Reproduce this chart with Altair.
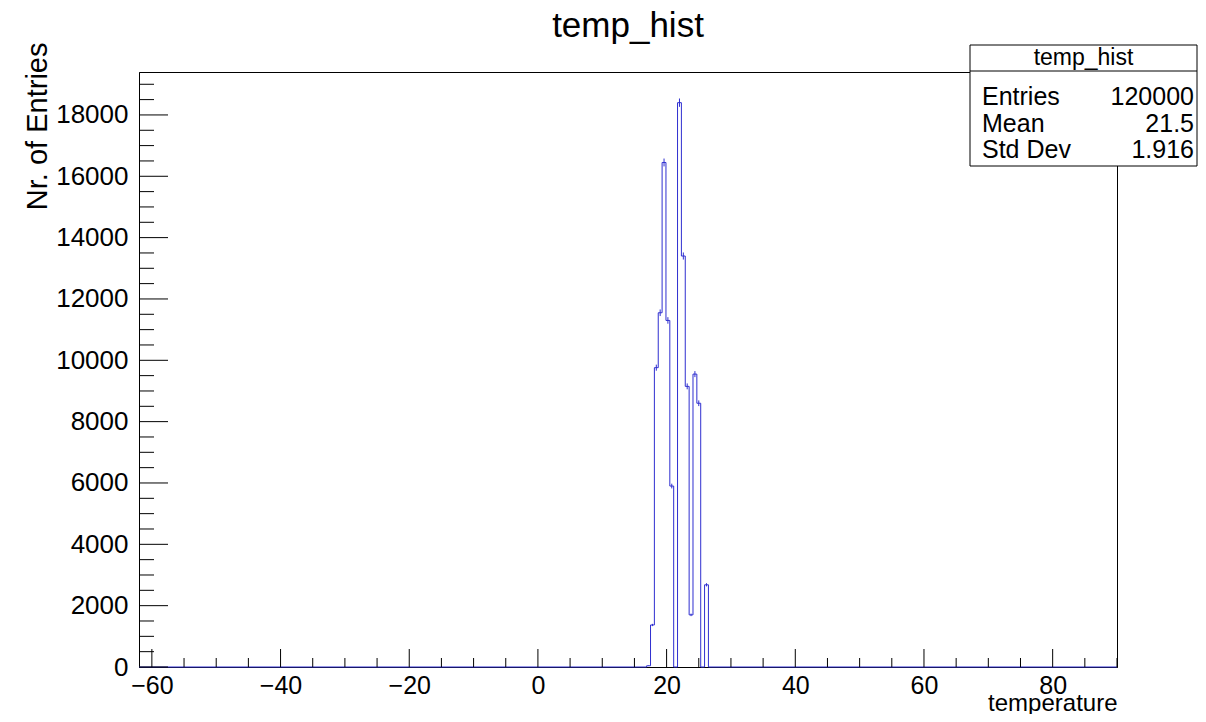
import altair as alt
import pandas as pd
import numpy as np

# ---------------- data ----------------
title_text = "temp_hist"
x_title = "temperature"
y_title = "Nr. of Entries"

bin_left = [16.9, 17.5, 18.1, 18.7, 19.3, 19.9, 20.5, 21.1, 21.7, 22.3, 22.9, 23.5, 24.1, 24.7, 25.3, 25.9]
bin_right = [17.5, 18.1, 18.7, 19.3, 19.9, 20.5, 21.1, 21.7, 22.3, 22.9, 23.5, 24.1, 24.7, 25.3, 25.9, 26.5]
counts = [40, 1370, 9760, 11550, 16450, 11300, 5900, 0, 18400, 13400, 9150, 1700, 9550, 8600, 0, 2680]

x_domain = [-62, 90]
y_domain = [0, 19400]

x_major = [-60, -40, -20, 0, 20, 40, 60, 80]
x_minor = [-55, -50, -45, -35, -30, -25, -15, -10, -5, 5, 10, 15, 25, 30, 35, 45, 50, 55, 65, 70, 75, 85, 90]
y_major = [0, 2000, 4000, 6000, 8000, 10000, 12000, 14000, 16000, 18000]
y_minor = [500, 1000, 1500, 2500, 3000, 3500, 4500, 5000, 5500, 6500, 7000, 7500, 8500, 9000, 9500,
           10500, 11000, 11500, 12500, 13000, 13500, 14500, 15000, 15500, 16500, 17000, 17500, 18500, 19000]

stat_names = ["Entries", "Mean", "Std Dev"]
stat_values = ["120000", "21.5", "1.916"]

# ---------------- layout ----------------
W, H = 978, 595
FONT = "Liberation Sans"
LINE = "#2f2fd0"

step_x = [x_domain[0]] + bin_left + [bin_right[-1], x_domain[1]]
step_y = [0] + counts + [0, 0]
df_step = pd.DataFrame({"x": step_x, "y": step_y})

df_err = pd.DataFrame({
    "x": [(a + b) / 2 for a, b in zip(bin_left, bin_right)],
    "v": counts,
})
df_err = df_err[df_err["v"] > 0].copy()
df_err["y"] = df_err["v"] - np.sqrt(df_err["v"])
df_err["y2"] = df_err["v"] + np.sqrt(df_err["v"])

xscale = alt.Scale(domain=x_domain, nice=False, zero=False)
yscale = alt.Scale(domain=y_domain, nice=False, zero=False)

x_axis = alt.Axis(values=x_major, format="d", tickSize=0, labelFont=FONT, labelFontSize=25, labelColor="black",
                  labelPadding=6, domainColor="black", grid=False, title=x_title, titleFont=FONT,
                  titleFontSize=24, titleFontWeight="normal", titleColor="black", titleAnchor="end",
                  titleAlign="right", titleBaseline="alphabetic", titleX=W, titleY=43)
y_axis = alt.Axis(values=y_major, format="d", tickSize=0, labelFont=FONT, labelFontSize=26, labelColor="black",
                  labelPadding=11, domainColor="black", grid=False, title=y_title, titleFont=FONT,
                  titleFontSize=29, titleFontWeight="normal", titleColor="black", titleAngle=270,
                  titleAlign="right", titleBaseline="alphabetic", titleX=-93, titleY=-30)

hist = alt.Chart(df_step).mark_line(interpolate="step-after", color=LINE, strokeWidth=1).encode(
    x=alt.X("x:Q", scale=xscale, axis=x_axis),
    y=alt.Y("y:Q", scale=yscale, axis=y_axis),
)

err = alt.Chart(df_err).mark_rule(color=LINE, strokeWidth=1).encode(
    x=alt.X("x:Q", scale=xscale),
    y=alt.Y("y:Q", scale=yscale),
    y2="y2:Q",
)

def xticks(vals, length):
    return alt.Chart(pd.DataFrame({"x": vals})).mark_rule(color="black", strokeWidth=1).encode(
        x=alt.X("x:Q", scale=xscale),
        y=alt.value(H), y2=alt.value(H - length),
    )

def yticks(vals, length):
    return alt.Chart(pd.DataFrame({"y": vals})).mark_rule(color="black", strokeWidth=1).encode(
        y=alt.Y("y:Q", scale=yscale),
        x=alt.value(0), x2=alt.value(length),
    )

title = alt.Chart(pd.DataFrame({"t": [title_text]})).mark_text(
    font=FONT, fontSize=35, color="black", align="center", baseline="alphabetic").encode(
    text="t:N", x=alt.value(W / 2), y=alt.value(-35))

# stats box
bx0, bx1, by0, by1, bsep = 831, 1058, -27, 94, -1
box = alt.Chart(pd.DataFrame({"a": [0]})).mark_rect(fill="white", stroke="black", strokeWidth=1).encode(
    x=alt.value(bx0), x2=alt.value(bx1), y=alt.value(by0), y2=alt.value(by1))
sep = alt.Chart(pd.DataFrame({"a": [0]})).mark_rule(color="black", strokeWidth=1).encode(
    x=alt.value(bx0), x2=alt.value(bx1), y=alt.value(bsep))
box_title = alt.Chart(pd.DataFrame({"t": [title_text]})).mark_text(
    font=FONT, fontSize=23, color="black", align="center", baseline="middle").encode(
    text="t:N", x=alt.value((bx0 + bx1) / 2), y=alt.value(-14))

row_y = [25, 51.5, 78]
stat_layers = []
for name, val, yy in zip(stat_names, stat_values, row_y):
    d = pd.DataFrame({"n": [name], "v": [val]})
    stat_layers.append(alt.Chart(d).mark_text(font=FONT, fontSize=25, color="black", align="left",
                                              baseline="middle").encode(text="n:N", x=alt.value(843), y=alt.value(yy)))
    stat_layers.append(alt.Chart(d).mark_text(font=FONT, fontSize=25, color="black", align="right",
                                              baseline="middle").encode(text="v:N", x=alt.value(1055), y=alt.value(yy)))

chart = alt.layer(
    hist, err,
    xticks(x_major, 18), xticks(x_minor, 9),
    yticks(y_major, 29), yticks(y_minor, 15),
    title, box, sep, box_title, *stat_layers,
).properties(
    width=W, height=H,
    autosize=alt.AutoSizeParams(type="none"),
    padding={"left": 131, "top": 64, "right": 81, "bottom": 47},
    background="white",
).configure_view(stroke="black", strokeWidth=1)

chart.save("out.html", embed_options={"renderer": "svg", "actions": False})
